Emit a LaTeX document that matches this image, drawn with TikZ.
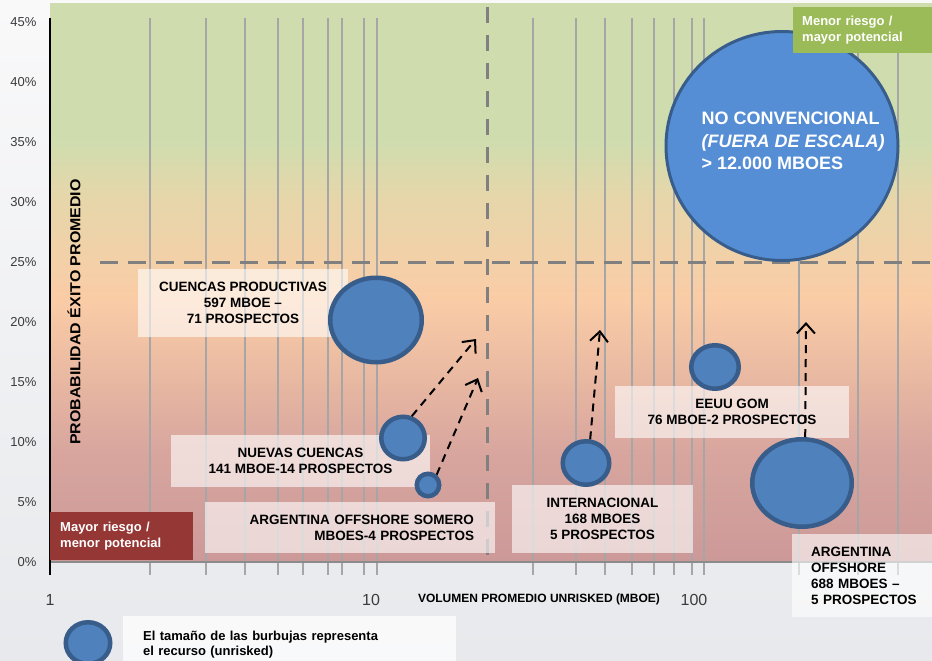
\documentclass[tikz,border=0pt]{standalone}
\usepackage{fontspec}
\setmainfont{Liberation Sans}
\usetikzlibrary{shapes.geometric,arrows.meta,positioning,calc}

\definecolor{pagetop}{RGB}{249,249,250}
\definecolor{pagebot}{RGB}{231,233,236}
\definecolor{bgred}{RGB}{204,153,153}
\definecolor{bgrose}{RGB}{216,166,158}
\definecolor{bgpeach}{RGB}{250,204,166}
\definecolor{bgtan}{RGB}{231,214,170}
\definecolor{bggreen}{RGB}{207,221,174}
\definecolor{gridgray}{RGB}{166,166,166}
\definecolor{guidegray}{RGB}{128,128,128}
\definecolor{axisgray}{RGB}{140,140,140}
\definecolor{ticktext}{RGB}{60,60,60}
\definecolor{bubblefill}{RGB}{79,129,189}
\definecolor{bubbleedge}{RGB}{56,93,138}
\definecolor{bigfill}{RGB}{85,142,213}
\definecolor{riskred}{RGB}{149,55,53}
\definecolor{riskgreen}{RGB}{155,187,89}

\pgfdeclareverticalshading{chartbg}{100bp}{color(0bp)=(bgred); color(25bp)=(bgred); color(35bp)=(bgrose); color(48.5bp)=(bgpeach); color(57.4bp)=(bgtan); color(62.8bp)=(bggreen); color(100bp)=(bggreen)}

\begin{document}
\begin{tikzpicture}[x=1pt, y=-1pt,
    gridline/.style={draw=gridgray, line width=1.8pt},
    guide/.style={draw=guidegray, line width=3pt},
    bubble/.style={ellipse, draw=bubbleedge, fill=bubblefill, line width=4.5pt, inner sep=0pt},
    labelbox/.style={fill=white, fill opacity=0.6, text opacity=1, inner sep=0pt,
        font=\bfseries\fontsize{13.5}{16}\selectfont},
    riskbox/.style={text=white, inner ysep=0pt, anchor=north west, align=left,
        font=\bfseries\fontsize{13}{16}\selectfont},
    move/.style={draw=black, line width=2pt, dash pattern=on 8pt off 6pt,
        -{Straight Barb[length=10pt,width=18pt]}}]
    \useasboundingbox (0,0) rectangle (932,661);

    % Backgrounds
    \shade[top color=pagetop, bottom color=pagebot] (0,0) rectangle (932,661);
    \shade[shading=chartbg] (50,4) rectangle (932,562);

    % Log grid (as drawn in the chart)
    \foreach \gx in {150,206,245,278,303,328,342,364,377,533,576,605,632,654,674,692,704,799,858,898} {
        \draw[gridline] (\gx,18) -- (\gx,575);
    }

    % Axes
    \draw[draw=axisgray, line width=2pt] (50,562) -- (932,562);
    \draw[line width=2pt] (50,18) -- (50,575);

    % Y tick labels
    \foreach \v in {0,5,...,45} {
        \node[anchor=east, text=ticktext, font=\fontsize{13}{13}\selectfont] (yl\v) at (40,{562-12*\v}) {\v\%};
    }

    % X tick labels
    \foreach \v/\xp in {1/50, 10/371, 100/694} {
        \node[text=ticktext, font=\fontsize{16}{16}\selectfont] (xl\v) at (\xp,600) {\v};
    }

    % Axis titles
    \node[rotate=90, xscale=1.1, font=\bfseries\fontsize{14.5}{14.5}\selectfont] (ytitle) at (74,312) {PROBABILIDAD ÉXITO PROMEDIO};
    \node[font=\bfseries\fontsize{12}{12}\selectfont] (xtitle) at (539,599) {VOLUMEN PROMEDIO UNRISKED (MBOE)};

    % Quadrant guides
    \draw[guide, dash pattern=on 18pt off 10pt] (100,262) -- (932,262);
    \draw[guide, dash pattern=on 16pt off 12pt] (487,7) -- (487,555);

    % Risk corner
    \node[riskbox, fill=riskred, minimum width=143, minimum height=48, inner xsep=10pt, text width=123pt] (mayor) at (50,512) {Mayor riesgo /\\menor potencial};

    % Labels
    \node[labelbox, align=center, minimum width=210, minimum height=68] (lcuencas) at (243,303) {CUENCAS PRODUCTIVAS\\597 MBOE –\\71 PROSPECTOS};
    \node[labelbox, align=center, minimum width=259, minimum height=52] (lnuevas) at (300.5,461) {NUEVAS CUENCAS\\141 MBOE-14 PROSPECTOS};
    \node[labelbox, align=right, inner xsep=21pt, text width=248pt, minimum height=51] (lsomero) at (350,527.5) {ARGENTINA OFFSHORE SOMERO\\MBOES-4 PROSPECTOS};
    \node[labelbox, align=center, minimum width=181, minimum height=68] (linter) at (602.5,519) {INTERNACIONAL\\168 MBOES\\5 PROSPECTOS};
    \node[labelbox, align=center, minimum width=234, minimum height=52] (leeuu) at (732,412) {EEUU GOM\\76 MBOE-2 PROSPECTOS};
    \node[labelbox, align=left, inner xsep=19pt, text width=108pt, minimum height=83] (largoff) at (865,575.5) {ARGENTINA\\OFFSHORE\\688 MBOES –\\5 PROSPECTOS};

    % Bubbles
    \node[bubble, minimum width=91.5, minimum height=84.5] (cuencas) at (376,320) {};
    \node[bubble, minimum width=43.5, minimum height=42.5] (nuevas) at (403,438) {};
    \node[bubble, minimum width=22.5, minimum height=22.5] (somero) at (428,485) {};
    \node[bubble, minimum width=46.5, minimum height=43.5] (inter) at (586,463) {};
    \node[bubble, minimum width=47.5, minimum height=43.5] (eeuu) at (715,367) {};
    \node[bubble, minimum width=99.5, minimum height=87.5] (argoff) at (802,483) {};
    \node[bubble, fill=bigfill, line width=3pt, minimum width=232, minimum height=229] (noconv) at (782,146) {};
    \node[anchor=west, text=white, align=left, font=\bfseries\fontsize{18}{22.5}\selectfont] (noconvtxt) at (698,141) {NO CONVENCIONAL\\\textit{(FUERA DE ESCALA)}\\> 12.000 MBOES};

    % Low risk corner
    \node[riskbox, fill=riskgreen, minimum width=139, minimum height=46, inner xsep=9pt, text width=121pt] (menor) at (793,7) {Menor riesgo /\\mayor potencial};

    % Moves
    \coordinate (tipA) at (476,339);
    \coordinate (tipB) at (478,378);
    \coordinate (tipC) at (600,330);
    \coordinate (tipD) at (806,322);
    \draw[move] (nuevas.68) -- (tipA);
    \draw[move] (somero.50) -- (tipB);
    \draw[move] (inter.80) -- (tipC);
    \draw[move] (argoff.86) -- (tipD);

    % Legend
    \node[labelbox, fill opacity=0.75, anchor=north west, align=left, inner xsep=20pt, text width=293pt, minimum height=56,
        font=\bfseries\fontsize{13}{15}\selectfont] (legtxt) at (123,616) {El tamaño de las burbujas representa\\el recurso (unrisked)};
    \node[bubble, minimum width=44.5, minimum height=41.5] (legbub) at (88,643) {};
\end{tikzpicture}
\end{document}
